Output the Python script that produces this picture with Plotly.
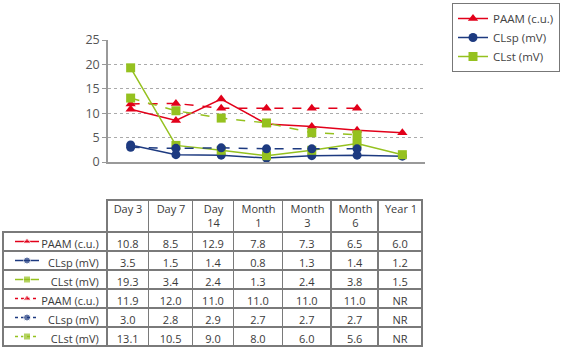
import plotly.graph_objects as go

categories = ["Day 3", "Day 7", "Day 14", "Month 1", "Month 3", "Month 6", "Year 1"]
header_labels = ["Day 3", "Day 7", "Day<br>14", "Month<br>1", "Month<br>3", "Month<br>6", "Year 1"]

paam_solid = [10.8, 8.5, 12.9, 7.8, 7.3, 6.5, 6.0]
clsp_solid = [3.5, 1.5, 1.4, 0.8, 1.3, 1.4, 1.2]
clst_solid = [19.3, 3.4, 2.4, 1.3, 2.4, 3.8, 1.5]
paam_dash = [11.9, 12.0, 11.0, 11.0, 11.0, 11.0, None]
clsp_dash = [3.0, 2.8, 2.9, 2.7, 2.7, 2.7, None]
clst_dash = [13.1, 10.5, 9.0, 8.0, 6.0, 5.6, None]

names = ["PAAM (c.u.)", "CLsp (mV)", "CLst (mV)"]
RED, NAVY, GREEN = "#e2001a", "#1d3a80", "#95c11f"
colors = [RED, NAVY, GREEN]
symbols = ["triangle-up", "circle", "square"]

FONT = "Open Sans"
TXT = "#3a3a3a"
W, H = 568, 350
CLEAR = "rgba(0,0,0,0)"
fig = go.Figure()

row_data = [paam_solid, clsp_solid, clst_solid, paam_dash, clsp_dash, clst_dash]
row_dash = ["solid"] * 3 + ["dash"] * 3

for k, vals in enumerate(row_data):
    i = k % 3
    fig.add_trace(go.Scatter(
        x=categories, y=vals, mode="lines+markers", name=names[i],
        showlegend=(k < 3),
        line=dict(color=colors[i], width=1.5, dash=row_dash[k]),
        marker=dict(symbol=symbols[i], size=9, color=colors[i]),
    ))

# ---------- table ----------
def fmt(v):
    return "NR" if v is None else f"{v:.1f}"

labels = [names[k % 3].replace(" ", "\u00a0") for k in range(len(row_data))]
columns = [labels]
for c in range(len(categories)):
    columns.append([fmt(r[c]) for r in row_data])

col_widths = [104, 42, 44, 41, 49, 49, 47, 44]
TABLE_X0 = 3
table_w = sum(col_widths)
LINE = "#7a7a7a"
TABLE_TOP, HEADER_H, ROW_H = 200, 32, 19
body_top = TABLE_TOP + HEADER_H
table_bottom = body_top + ROW_H * len(row_data)

fig.add_trace(go.Table(
    domain=dict(x=[TABLE_X0 / W, (TABLE_X0 + table_w) / W], y=[0, (H - TABLE_TOP) / H]),
    columnwidth=col_widths,
    header=dict(
        values=[""] * len(col_widths), height=HEADER_H,
        fill=dict(color=CLEAR),
        line=dict(color=[CLEAR] + [LINE] * 7, width=1.5),
        font=dict(family=FONT, size=11, color=TXT),
    ),
    cells=dict(
        values=columns, height=ROW_H, align=["right"] + ["center"] * 7,
        fill=dict(color=CLEAR),
        line=dict(color=LINE, width=1.5),
        font=dict(family=FONT, size=11, color=TXT),
    ),
))

# header labels through an axis laid over the table's header row
centers = []
acc = col_widths[0]
for w in col_widths[1:]:
    centers.append(acc + w / 2)
    acc += w
fig.add_trace(go.Scatter(x=centers, y=[0] * len(centers), xaxis="x3", yaxis="y3",
                         mode="markers", marker=dict(opacity=0), showlegend=False,
                         hoverinfo="skip"))

# legend-style samples in the table's label column
for k in range(len(row_data)):
    i = k % 3
    fig.add_trace(go.Scatter(
        x=[12, 24, 36], y=[k, k, k], xaxis="x2", yaxis="y2",
        mode="lines+markers", showlegend=False, hoverinfo="skip",
        line=dict(color=colors[i], width=1.5, dash="solid" if k < 3 else "3px,3px"),
        marker=dict(symbol=symbols[i], size=[0, 7, 0], color=colors[i]),
    ))

fig.update_layout(
    width=W, height=H,
    margin=dict(l=0, r=0, t=0, b=0, autoexpand=False),
    paper_bgcolor="white", plot_bgcolor="white",
    font=dict(family=FONT, size=11, color="#555"),
    xaxis=dict(
        domain=[108 / W, 425 / W], type="category", anchor="y",
        categoryorder="array", categoryarray=categories,
        range=[-0.5, 6.5], showticklabels=False, ticks="",
        showline=True, linecolor="#999", linewidth=1.5,
        showgrid=False, zeroline=False,
    ),
    yaxis=dict(
        domain=[(H - 162) / H, (H - 40) / H], anchor="x",
        range=[0, 25], tickvals=[0, 5, 10, 15, 20, 25],
        ticks="outside", ticklen=4, tickcolor="#999",
        showline=True, linecolor="#999", linewidth=1.5,
        showgrid=True, gridcolor="#aaa", griddash="dot", gridwidth=1,
        zeroline=False, tickfont=dict(size=12.5, color="#555"),
    ),
    xaxis2=dict(
        domain=[TABLE_X0 / W, (TABLE_X0 + col_widths[0]) / W], anchor="y2",
        range=[0, col_widths[0]], visible=False, fixedrange=True,
    ),
    yaxis2=dict(
        domain=[(H - table_bottom) / H, (H - body_top) / H], anchor="x2",
        range=[len(row_data) - 0.5, -0.5], visible=False, fixedrange=True,
    ),
    xaxis3=dict(
        domain=[TABLE_X0 / W, (TABLE_X0 + table_w) / W], anchor="y3",
        range=[0, table_w], tickmode="array", tickvals=centers, ticktext=header_labels,
        showline=False, showgrid=False, zeroline=False, ticks="", side="bottom",
        tickfont=dict(family=FONT, size=11, color=TXT), fixedrange=True,
    ),
    yaxis3=dict(
        domain=[(H - TABLE_TOP - 1) / H, (H - TABLE_TOP) / H], anchor="x3",
        visible=False, fixedrange=True, range=[-1, 1],
    ),
    legend=dict(
        x=452 / W, y=1 - 3 / H, xanchor="left", yanchor="top",
        bordercolor="#777", borderwidth=1, bgcolor="white",
        font=dict(family=FONT, size=11.5, color="#444"),
        tracegroupgap=0,
    ),
)

fig.write_html("out.html")
